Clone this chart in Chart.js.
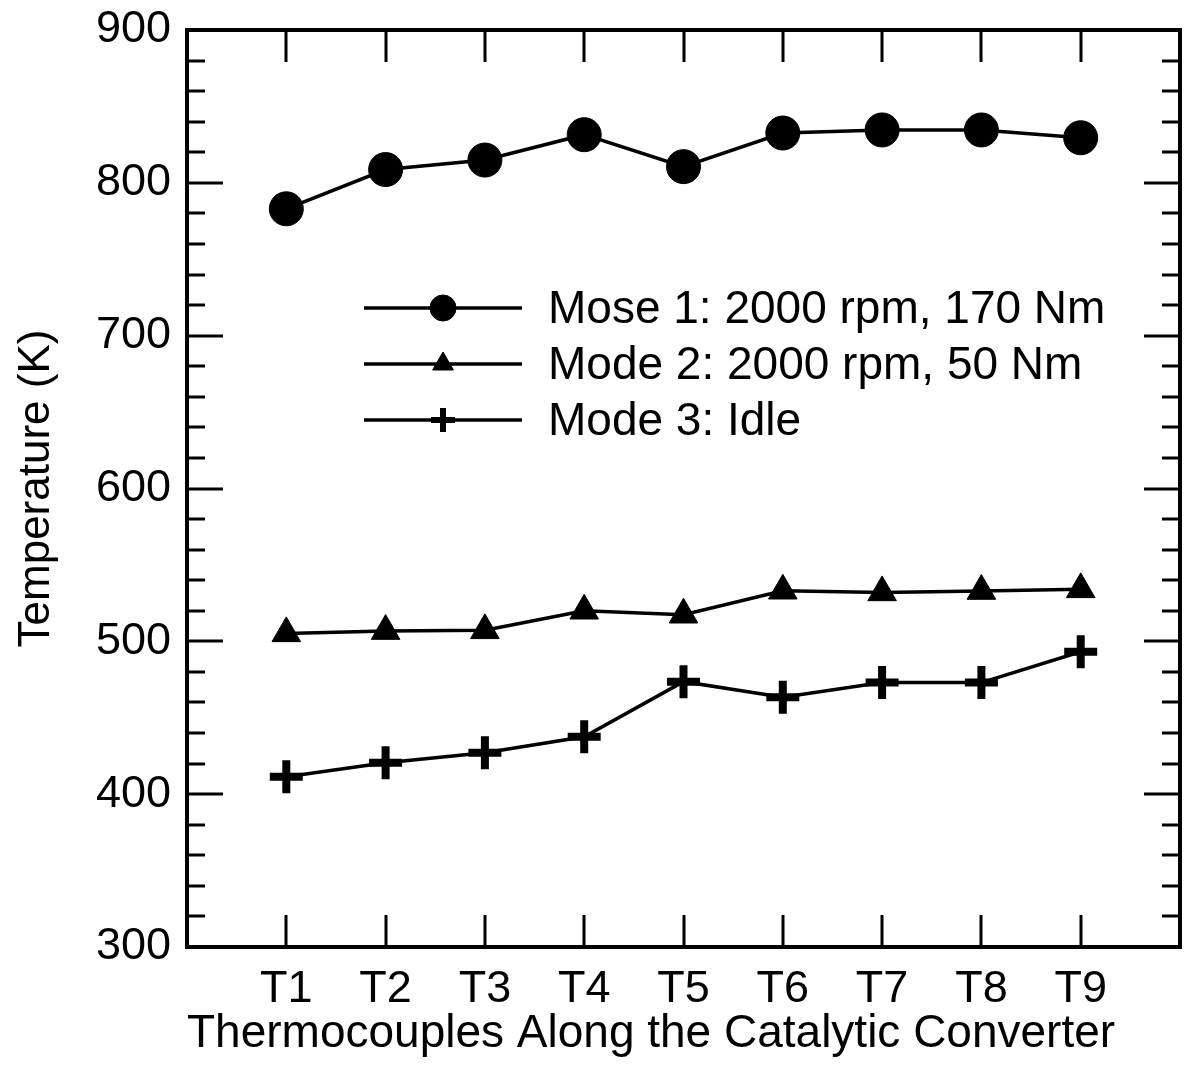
<!DOCTYPE html>
<html>
<head>
<meta charset="utf-8">
<script src="https://cdn.jsdelivr.net/npm/chart.js@4/dist/chart.umd.min.js"></script>
<style>
  html, body { margin: 0; padding: 0; background: #fff; }
  #wrap { width: 1184px; height: 1067px; }
</style>
</head>
<body>
<div id="wrap"><canvas id="chart" width="1184" height="1067"></canvas></div>
<script>
// values
const categories = ['T1', 'T2', 'T3', 'T4', 'T5', 'T6', 'T7', 'T8', 'T9'];
const mode1 = [783, 808.7, 814.9, 831.5, 810.6, 832.6, 834.6, 834.6, 829.5];
const mode2 = [505.2, 506.7, 507.2, 520, 517.4, 533.1, 532, 532.9, 534];
const mode3 = [411.4, 420.6, 427.1, 437.6, 473.6, 463.4, 473, 473, 493.2];
const seriesLabels = ['Mose 1: 2000 rpm, 170 Nm', 'Mode 2: 2000 rpm, 50 Nm', 'Mode 3: Idle'];
const yTicks = [300, 400, 500, 600, 700, 800, 900];
const yMinorStep = 20;

const FONT = "'Liberation Sans', Arial, sans-serif";

const toPoints = (vals) => vals.map((v, i) => ({ x: i + 1, y: v }));

// box, inward ticks and the in-plot legend
const framePlugin = {
    id: 'frame',
    afterLayout(chart) {
        // stretch the plot box to the right edge like the original
        const a = chart.chartArea, xs = chart.scales.x;
        a.right = chart.width - 4;
        a.width = a.right - a.left;
        xs.right = a.right;
        xs.width = xs.right - xs.left;
        xs.configure();
    },
    afterDatasetsDraw(chart) {
        const { ctx, chartArea: a, scales } = chart;
        const xs = scales.x, ys = scales.y;
        ctx.save();
        ctx.strokeStyle = '#000';
        ctx.lineCap = 'butt';

        // y ticks (left + right)
        ctx.lineWidth = 3;
        const yMin = yTicks[0], yMax = yTicks[yTicks.length - 1];
        for (let v = yMin; v <= yMax; v += yMinorStep) {
            const py = Math.round(ys.getPixelForValue(v));
            const len = yTicks.includes(v) ? 36 : 18;
            ctx.beginPath();
            ctx.moveTo(a.left, py); ctx.lineTo(a.left + len, py);
            ctx.moveTo(a.right, py); ctx.lineTo(a.right - len, py);
            ctx.stroke();
        }
        // x ticks (bottom + top)
        categories.forEach((c, i) => {
            const px = Math.round(xs.getPixelForValue(i + 1));
            ctx.beginPath();
            ctx.moveTo(px, a.bottom); ctx.lineTo(px, a.bottom - 32);
            ctx.moveTo(px, a.top); ctx.lineTo(px, a.top + 32);
            ctx.stroke();
        });

        // frame
        ctx.lineWidth = 4;
        ctx.strokeRect(a.left, a.top, a.right - a.left, a.bottom - a.top);

        // legend
        const rows = [308, 364, 420];
        const legendMarks = [
            { pointStyle: 'circle', radius: 13, borderWidth: 1 },
            { pointStyle: 'triangle', radius: 12, borderWidth: 1 },
            { pointStyle: 'cross', radius: 12, borderWidth: 6 }
        ];
        ctx.font = '46px ' + FONT;
        ctx.textBaseline = 'middle';
        ctx.textAlign = 'left';
        ctx.fillStyle = '#000';
        rows.forEach((y, i) => {
            ctx.lineWidth = 3.5;
            ctx.beginPath();
            ctx.moveTo(364, y); ctx.lineTo(522, y);
            ctx.stroke();
            const m = legendMarks[i];
            ctx.lineWidth = m.borderWidth;
            Chart.helpers.drawPoint(ctx, { pointStyle: m.pointStyle, radius: m.radius, rotation: 0, borderWidth: m.borderWidth }, 443, y);
            ctx.fillText(chart.data.datasets[i].label, 548, y + 2);
        });
        ctx.restore();
    }
};

const lineStyle = {
    borderColor: '#000',
    backgroundColor: '#000',
    pointBackgroundColor: '#000',
    pointBorderColor: '#000',
    borderWidth: 3.5,
    tension: 0
};

new Chart(document.getElementById('chart'), {
    type: 'line',
    data: {
        datasets: [
            { ...lineStyle, label: seriesLabels[0], data: toPoints(mode1), pointStyle: 'circle', pointRadius: 17, pointBorderWidth: 1 },
            { ...lineStyle, label: seriesLabels[1], data: toPoints(mode2), pointStyle: 'triangle', pointRadius: 16.5, pointBorderWidth: 1 },
            { ...lineStyle, label: seriesLabels[2], data: toPoints(mode3), pointStyle: 'cross', pointRadius: 16.5, pointBorderWidth: 8 }
        ]
    },
    options: {
        responsive: false,
        animation: false,
        devicePixelRatio: 1,
        layout: { padding: { top: 30, right: 4, left: 0, bottom: 0 } },
        plugins: {
            legend: { display: false },
            tooltip: { enabled: false }
        },
        scales: {
            x: {
                type: 'linear',
                min: 0,
                max: 10,
                grid: { display: false, drawTicks: false },
                border: { display: false },
                afterFit: (s) => { s.height = 120; s.paddingLeft = 0; s.paddingRight = 0; },
                ticks: {
                    stepSize: 1,
                    autoSkip: false,
                    maxRotation: 0,
                    padding: 16,
                    color: '#000',
                    font: { family: FONT, size: 45 },
                    callback: (v) => categories[v - 1] || ''
                },
                title: {
                    display: true,
                    align: 'start',
                    text: 'Thermocouples Along the Catalytic Converter',
                    color: '#000',
                    font: { family: FONT, size: 46 },
                    padding: { top: 0, bottom: 5 }
                }
            },
            y: {
                min: yTicks[0],
                max: yTicks[yTicks.length - 1],
                grid: { display: false, drawTicks: false },
                border: { display: false },
                afterFit: (s) => { s.width = 187; s.paddingTop = 0; s.paddingBottom = 0; },
                afterBuildTicks: (s) => { s.ticks = yTicks.map(v => ({ value: v })); },
                ticks: {
                    padding: 16,
                    color: '#000',
                    font: { family: FONT, size: 45 }
                },
                title: {
                    display: true,
                    text: 'Temperature (K)',
                    color: '#000',
                    font: { family: FONT, size: 44 },
                    padding: { top: 10, bottom: 0 }
                }
            }
        }
    },
    plugins: [framePlugin]
});
</script>
</body>
</html>
